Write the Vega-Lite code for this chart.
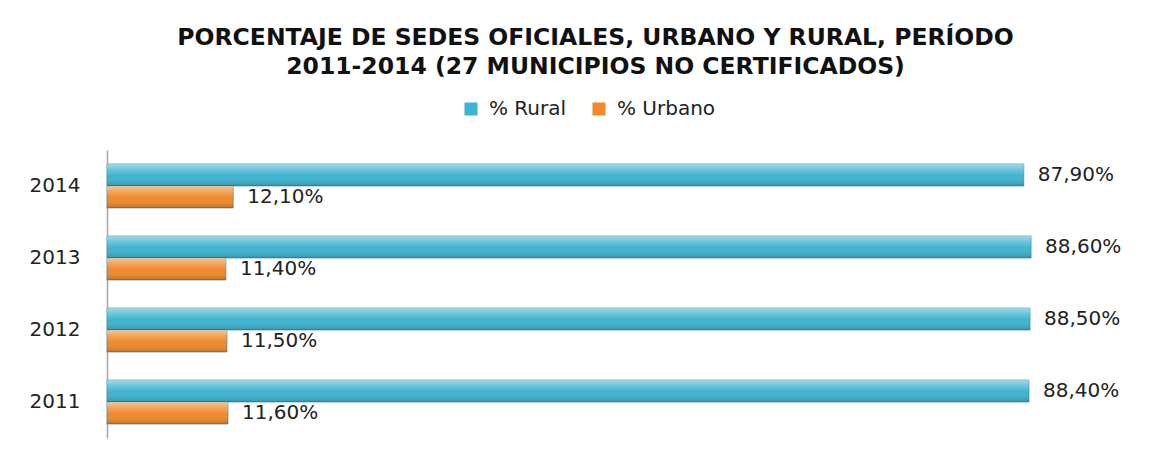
{
  "$schema": "https://vega.github.io/schema/vega-lite/v6.json",
  "width": 1043,
  "height": 288,
  "autosize": {"type": "none"},
  "padding": {"left": 107, "top": 150, "right": 20, "bottom": 17},
  "background": "white",
  "title": {
    "text": ["PORCENTAJE DE SEDES OFICIALES, URBANO Y RURAL, PERÍODO", "2011-2014  (27 MUNICIPIOS NO CERTIFICADOS)"],
    "anchor": "middle",
    "frame": "group",
    "dx": -33,
    "offset": 21,
    "font": "DejaVu Sans",
    "fontSize": 23.5,
    "fontWeight": "bold",
    "color": "#111111",
    "lineHeight": 29
  },
  "data": {
    "values": [
      {"year": "2014", "serie": "% Rural", "valor": 87.9, "etiqueta": "87,90%"},
      {"year": "2014", "serie": "% Urbano", "valor": 12.1, "etiqueta": "12,10%"},
      {"year": "2013", "serie": "% Rural", "valor": 88.6, "etiqueta": "88,60%"},
      {"year": "2013", "serie": "% Urbano", "valor": 11.4, "etiqueta": "11,40%"},
      {"year": "2012", "serie": "% Rural", "valor": 88.5, "etiqueta": "88,50%"},
      {"year": "2012", "serie": "% Urbano", "valor": 11.5, "etiqueta": "11,50%"},
      {"year": "2011", "serie": "% Rural", "valor": 88.4, "etiqueta": "88,40%"},
      {"year": "2011", "serie": "% Urbano", "valor": 11.6, "etiqueta": "11,60%"}
    ]
  },
  "encoding": {
    "y": {
      "field": "year",
      "type": "nominal",
      "sort": "descending",
      "scale": {"paddingInner": 0.389, "paddingOuter": 0.194},
      "axis": {
        "title": null,
        "ticks": false,
        "domainColor": "#a6a6a6",
        "domainWidth": 1.5,
        "labelFont": "DejaVu Sans",
        "labelFontSize": 20,
        "labelColor": "#222222",
        "labelPadding": 27
      }
    },
    "yOffset": {"field": "serie", "type": "nominal", "sort": ["% Rural", "% Urbano"]},
    "x": {
      "field": "valor",
      "type": "quantitative",
      "scale": {"domain": [0, 100]},
      "axis": null
    }
  },
  "layer": [
    {
      "mark": {"type": "bar", "stroke": "#2f7f96", "strokeWidth": 0.6},
      "encoding": {
        "color": {
          "field": "serie",
          "type": "nominal",
          "scale": {"domain": ["% Rural", "% Urbano"], "range": ["#3db4d1", "#f08a2c"]},
          "legend": {
            "title": null,
            "orient": "none",
            "direction": "horizontal",
            "legendX": 354,
            "legendY": -51,
            "symbolType": "square",
            "symbolSize": 170,
            "symbolStrokeWidth": 0,
            "labelFont": "DejaVu Sans",
            "labelFontSize": 20,
            "labelColor": "#222222",
            "columnPadding": 22,
            "labelOffset": 8
          }
        }
      }
    },
    {
      "mark": {
        "type": "bar",
        "fill": {
          "gradient": "linear",
          "x1": 0, "y1": 0, "x2": 0, "y2": 1,
          "stops": [
            {"offset": 0, "color": "rgba(255,255,255,0.5)"},
            {"offset": 0.3, "color": "rgba(255,255,255,0.2)"},
            {"offset": 0.55, "color": "rgba(255,255,255,0)"},
            {"offset": 1, "color": "rgba(0,0,0,0.2)"}
          ]
        },
        "strokeWidth": 0
      }
    },
    {
      "mark": {
        "type": "text",
        "align": "left",
        "baseline": "middle",
        "dx": 14,
        "font": "DejaVu Sans",
        "fontSize": 20,
        "color": "#222222"
      },
      "encoding": {"text": {"field": "etiqueta"}}
    }
  ],
  "config": {"view": {"stroke": null}}
}
